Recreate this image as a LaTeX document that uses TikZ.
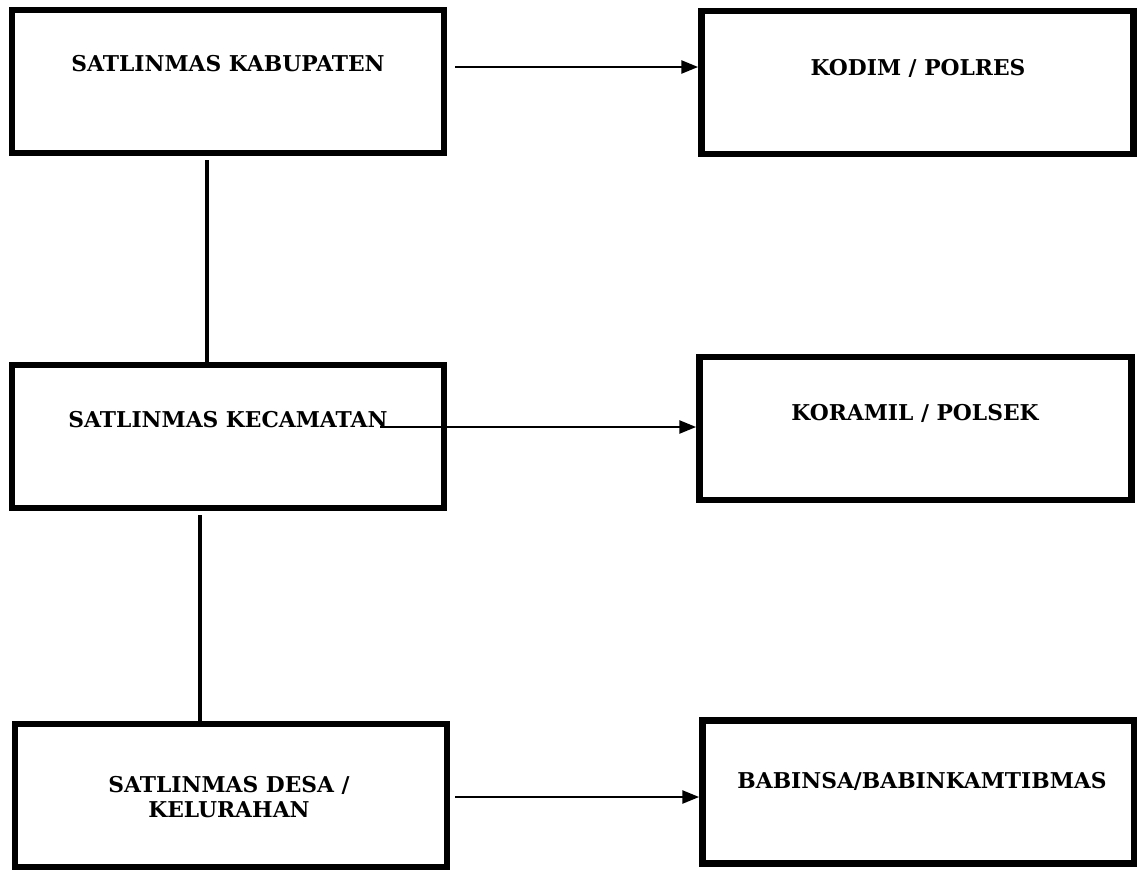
\documentclass[tikz,border=0pt]{standalone}
\usepackage{fontspec}
\setmainfont{DejaVu Serif}
\usetikzlibrary{arrows.meta}
\tikzset{
  orgbox/.style={draw=black,line width=4.8pt,minimum width=10.8cm,minimum height=3.575cm,inner sep=0pt},
  orgtext/.style={font=\fontsize{15.5pt}{17.8pt}\selectfont\bfseries,align=center,inner sep=0pt},
  vlink/.style={line width=3pt,draw=black},
  harrow/.style={line width=1.4pt,draw=black,-{Triangle[length=0.42cm,width=0.33cm]}}
}
\begin{document}
\begin{tikzpicture}[x=0.025cm,y=-0.025cm]
  \useasboundingbox (0,0) rectangle (1137,869);
  \node[orgbox] (kab) at (228,81.5) {}; \node[orgbox] (kodim) at (917.5,82.5) {};
  \node[orgbox] (kec) at (228,436.5) {}; \node[orgbox] (koramil) at (915.5,428.5) {};
  \node[orgbox] (desa) at (231,795.5) {}; \node[orgbox] (babin) at (918.5,792) {};
  \node[orgtext] (kabtxt) at (228,64) {SATLINMAS KABUPATEN};
  \node[orgtext] (kodimtxt) at (918,68) {KODIM / POLRES};
  \node[orgtext] (kectxt) at (228,420) {SATLINMAS KECAMATAN};
  \node[orgtext] (koramiltxt) at (915,413) {KORAMIL / POLSEK};
  \node[orgtext] (desatxt) at (229,797) {SATLINMAS DESA /\\KELURAHAN};
  \node[orgtext] (babintxt) at (922,781) {BABINSA/BABINKAMTIBMAS};
  \coordinate (kabout) at (455,67); \coordinate (kecout) at (380,427); \coordinate (desaout) at (455,797);
  \coordinate (v1) at (207,160); \coordinate (v2) at (200,515);
  \draw[harrow] (kabout) -- (kabout -| kodim.west);
  \draw[harrow] (kecout) -- (kecout -| koramil.west);
  \draw[harrow] (desaout) -- (desaout -| babin.west);
  \draw[vlink] (v1) -- (v1 |- kec.north);
  \draw[vlink] (v2) -- (v2 |- desa.north);
\end{tikzpicture}
\end{document}
